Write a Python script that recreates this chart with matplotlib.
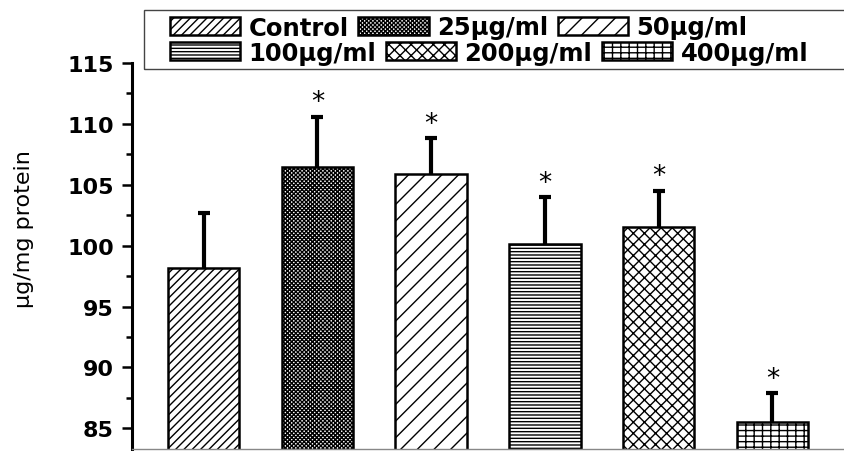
import matplotlib
matplotlib.use("Agg")
import matplotlib.pyplot as plt
from matplotlib.patches import Rectangle
from matplotlib.ticker import MultipleLocator

# 数据
groups = ["Control", "25μg/ml", "50μg/ml", "100μg/ml", "200μg/ml", "400μg/ml"]
values = [98.2, 106.5, 105.9, 100.1, 101.5, 85.5]
errors = [4.5, 4.1, 2.9, 3.9, 3.0, 2.4]
signif = ["", "*", "*", "*", "*", "*"]
hatches = ["////", "xxxxxxxx", "//", "-----", "xxx", "++-"]

plt.rcParams['font.family'] = ['DejaVu Sans']
plt.rcParams['hatch.linewidth'] = 1.0

W, H = 844, 452
fig = plt.figure(figsize=(W / 100, H / 100), dpi=100)
ax = fig.add_axes([132 / W, 2 / H, 712 / W, 386 / H])

bars = []
for i, (g, v, h) in enumerate(zip(groups, values, hatches)):
    b = ax.bar(i, v - 80, bottom=80, width=0.63, color="white", edgecolor="black",
               linewidth=1.8, hatch=h, label=g, zorder=2)
    bars.append(b)

# 误差线只画上半部分
eb = ax.errorbar(range(len(values)), values, yerr=[[0] * len(errors), errors],
                 fmt="none", ecolor="black", elinewidth=3, capsize=4, capthick=3, zorder=3)
eb[1][0].set_visible(False)

for i, (v, e, s) in enumerate(zip(values, errors, signif)):
    if s:
        ax.annotate(s, xy=(i, v + e), xytext=(0, 1), textcoords="offset points",
                    ha="center", va="bottom", fontsize=19)

ax.set_xlim(-0.63, 5.63)
ax.set_ylim(83.3, 115)
ax.yaxis.set_major_locator(MultipleLocator(5))
ax.yaxis.set_minor_locator(MultipleLocator(2.5))
ax.set_xticks([])
ax.tick_params(axis="y", which="major", direction="out", length=7, width=1.8,
               labelsize=16, pad=6)
ax.tick_params(axis="y", which="minor", direction="out", length=4, width=1.8)
for lab in ax.get_yticklabels():
    lab.set_fontweight("bold")
ax.spines["top"].set_visible(False)
ax.spines["right"].set_visible(False)
ax.spines["left"].set_linewidth(2.2)
ax.spines["bottom"].set_color("#888888")
ax.spines["bottom"].set_linewidth(1)

fig.text(24 / W, 1 - 229 / H, "μg/mg protein", rotation=90, ha="center", va="center",
         fontsize=16)

# 图例：两行，各三个
leg_kw = dict(loc="center left", ncol=3, frameon=False, borderpad=0, borderaxespad=0,
              handlelength=2.9, handleheight=0.72, handletextpad=0.33, columnspacing=0.4,
              prop={"size": 17.5, "weight": "bold"}, bbox_transform=fig.transFigure)
fig.legend(handles=bars[:3], bbox_to_anchor=(170 / W, 1 - 28.5 / H), **leg_kw)
fig.legend(handles=bars[3:], bbox_to_anchor=(170 / W, 1 - 53.5 / H), **leg_kw)
fig.patches.append(Rectangle((144 / W, 1 - 70 / H), 720 / W, 59 / H, fill=False,
                             edgecolor="#444444", linewidth=1, transform=fig.transFigure,
                             figure=fig))

fig.savefig("out.png", dpi=100)
